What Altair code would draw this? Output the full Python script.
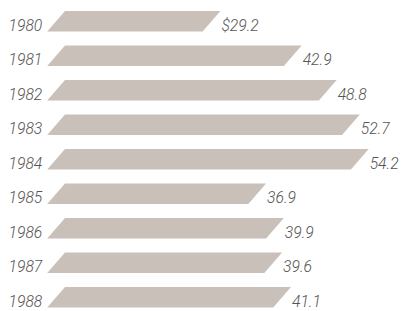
import altair as alt
import pandas as pd

years = ["1980", "1981", "1982", "1983", "1984", "1985", "1986", "1987", "1988"]
values = [29.2, 42.9, 48.8, 52.7, 54.2, 36.9, 39.9, 39.6, 41.1]
value_labels = ["$29.2", "42.9", "48.8", "52.7", "54.2", "36.9", "39.9", "39.6", "41.1"]

# style constants
SLANT = 3.0        # horizontal shift of the bar's top edge, in value units
PITCH = 35.2       # px per row
BAR_H = 21.0       # bar thickness, px
LABEL_OFF = 15.0   # label centre below the bar top, px
W, H = 357, 303
X_MAX = 59

rows = []
for i, (yr, v) in enumerate(zip(years, values)):
    rows.append(dict(year=yr, yy=i, xa=SLANT, xb=v))
    rows.append(dict(year=yr, yy=i + BAR_H / PITCH, xa=0.0, xb=v - SLANT))
shape_df = pd.DataFrame(rows)

lab_df = pd.DataFrame(dict(
    year=years,
    value=values,
    label=value_labels,
    base=[0.0] * len(years),
    yy=[i + LABEL_OFF / PITCH for i in range(len(years))],
))

xscale = alt.Scale(domain=[0, X_MAX], nice=False, zero=False)
yscale = alt.Scale(domain=[0, H / PITCH], nice=False, zero=False, reverse=True)

bars = alt.Chart(shape_df).mark_area(orient="horizontal", color="#c9c0b9").encode(
    y=alt.Y("yy:Q", scale=yscale, axis=None),
    x=alt.X("xa:Q", scale=xscale, axis=None),
    x2="xb:Q",
    detail="year:N",
)

txt = dict(font="Roboto", fontStyle="italic", fontWeight=300, fontSize=16,
           color="#555555", baseline="middle")

year_text = alt.Chart(lab_df).mark_text(align="right", dx=-5, **txt).encode(
    y=alt.Y("yy:Q", scale=yscale, axis=None),
    x=alt.X("base:Q", scale=xscale, axis=None),
    text="year:N",
)

value_text = alt.Chart(lab_df).mark_text(align="left", dx=1, **txt).encode(
    y=alt.Y("yy:Q", scale=yscale, axis=None),
    x=alt.X("value:Q", scale=xscale, axis=None),
    text="label:N",
)

chart = alt.layer(bars, year_text, value_text).properties(
    width=W,
    height=H,
    autosize=alt.AutoSizeParams(type="none"),
    padding={"left": 40, "top": 0, "right": 8, "bottom": 0},
    background="white",
).configure_view(stroke=None)

chart.save("out.html", embed_options={"renderer": "svg", "actions": False})
